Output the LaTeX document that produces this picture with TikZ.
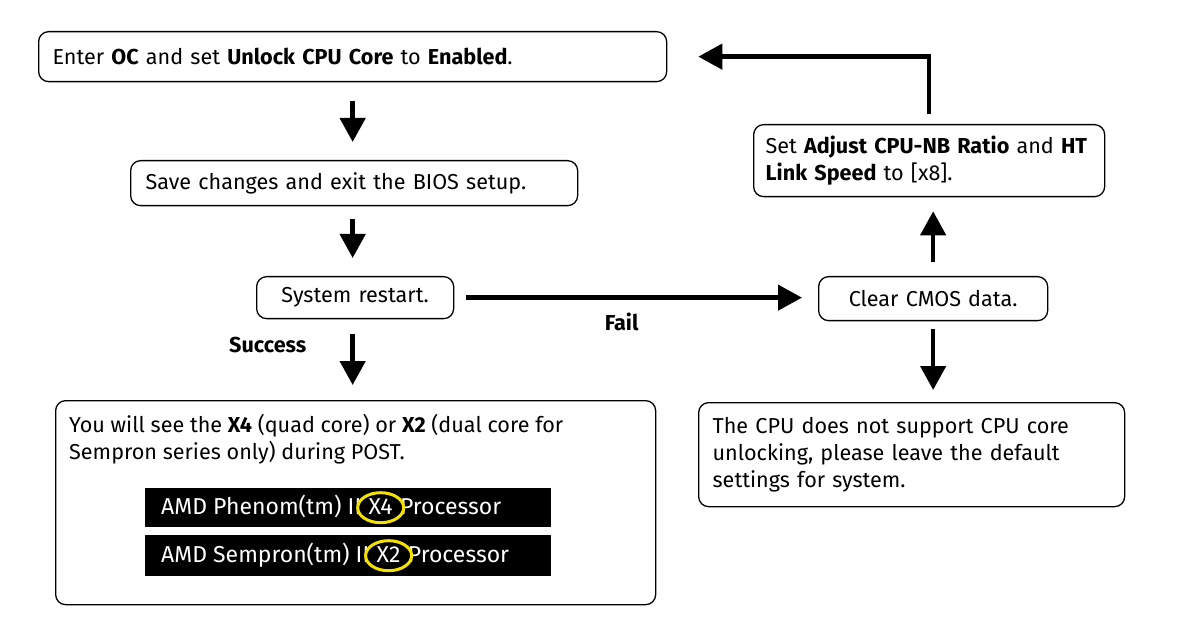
\documentclass[tikz,border=0pt]{standalone}
\usepackage{fontspec}
\setmainfont{Fira Sans}
\usepackage{xcolor}
\usetikzlibrary{positioning, arrows.meta, calc}

\definecolor{ringyellow}{RGB}{245,225,0}
\newcommand{\boxfont}{\fontsize{21.6}{27}\selectfont}
\newcommand{\barfont}{\fontsize{23}{26}\selectfont}

\tikzset{
  stepbox/.style={draw, line width=1.3pt, rounded corners=10pt, anchor=north west,
    align=left, inner xsep=14pt, inner ysep=0pt, font=\boxfont},
  flow/.style={line width=4.5pt, -{Triangle[length=24pt, width=25pt]}},
  barbox/.style={fill=black, anchor=north west, inner sep=0pt},
  bartext/.style={text=white, inner sep=0pt, text height=17pt, text depth=3pt, font=\barfont},
  ring/.style={draw=ringyellow, line width=3pt},
  branchlabel/.style={font=\boxfont\bfseries, inner sep=0pt}
}

\begin{document}
\begin{tikzpicture}[x=1pt, y=-1pt]
  \useasboundingbox (0,0) rectangle (1178,620);

  % Left column
  \node[stepbox, minimum width=628pt, minimum height=50pt, text width=600pt] (enter) at (38,31)
    {Enter \textbf{OC} and set \textbf{Unlock CPU Core} to \textbf{Enabled}.};
  \node[stepbox, inner xsep=15pt, minimum width=447pt, minimum height=45pt, text width=417pt] (save) at (130,160)
    {Save changes and exit the BIOS setup.};
  \node[stepbox, align=center, minimum width=197pt, minimum height=42pt, text width=169pt] (restart) at (256,276)
    {System restart.};

  % Result box
  \node[stepbox, minimum width=600pt, minimum height=204pt] (result) at (55,400) {};
  \node[font=\boxfont, align=left, inner sep=0pt, anchor=north west] (resulttext)
    at ([shift={(14pt,-14pt)}]result.north west)
    {You will see the \textbf{X4} (quad core) or \textbf{X2} (dual core for\\
     Sempron series only) during POST.};

  % POST screens
  \node[barbox, minimum width=406pt, minimum height=39pt] (phenombar) at (145,488) {};
  \node[bartext, anchor=west] (phenomA) at ([xshift=16pt]phenombar.west) {AMD Phenom(tm) II};
  \node[bartext, right=7pt of phenomA] (phenomX) {X4};
  \node[bartext, right=7pt of phenomX] (phenomB) {Processor};
  \draw[ring] (phenomX) ellipse (23pt and 15pt);

  \node[barbox, minimum width=406pt, minimum height=41pt] (sempronbar) at (145,535) {};
  \node[bartext, anchor=west] (sempronA) at ([xshift=16pt]sempronbar.west) {AMD Sempron(tm) II};
  \node[bartext, right=7pt of sempronA] (sempronX) {X2};
  \node[bartext, right=7pt of sempronX] (sempronB) {Processor};
  \draw[ring] (sempronX) ellipse (23pt and 15pt);

  % Right column
  \node[stepbox, inner xsep=12pt, minimum width=351pt, minimum height=72pt, text width=327pt] (setnb) at (753,124)
    {Set \textbf{Adjust CPU-NB Ratio} and \textbf{HT}\\ \textbf{Link Speed} to [x8].};
  \node[stepbox, align=center, minimum width=229pt, minimum height=44pt, text width=201pt] (cmos) at (818,276)
    {Clear CMOS data.};
  \node[stepbox, minimum width=426pt, minimum height=104pt, text width=398pt] (nosupport) at (698,402)
    {The CPU does not support CPU core\\ unlocking, please leave the default\\ settings for system.};

  % Arrows
  \draw[flow, shorten <=19pt, shorten >=18pt] (enter.south) -- (enter.south |- save.north);
  \draw[flow, shorten <=13pt, shorten >=18pt] (save.south -| enter.south) -- (enter.south |- restart.north);
  \draw[flow, shorten <=15pt, shorten >=15pt] (restart.south -| enter.south) -- (enter.south |- result.north)
    node[branchlabel, pos=0.32, left=44pt] (success) {Success};
  \draw[flow, shorten <=12pt, shorten >=16pt] (restart.east) -- (restart.east -| cmos.west)
    node[branchlabel, pos=0.46, below=13pt] (fail) {Fail};
  \draw[flow, shorten <=8pt, shorten >=12pt] (cmos.south) -- (cmos.south |- nosupport.north);
  \draw[flow, shorten <=14pt, shorten >=14pt] (cmos.north) -- (cmos.north |- setnb.south);
  \draw[flow, shorten <=10pt, shorten >=31pt] (setnb.north) |- (enter.east);
\end{tikzpicture}
\end{document}
